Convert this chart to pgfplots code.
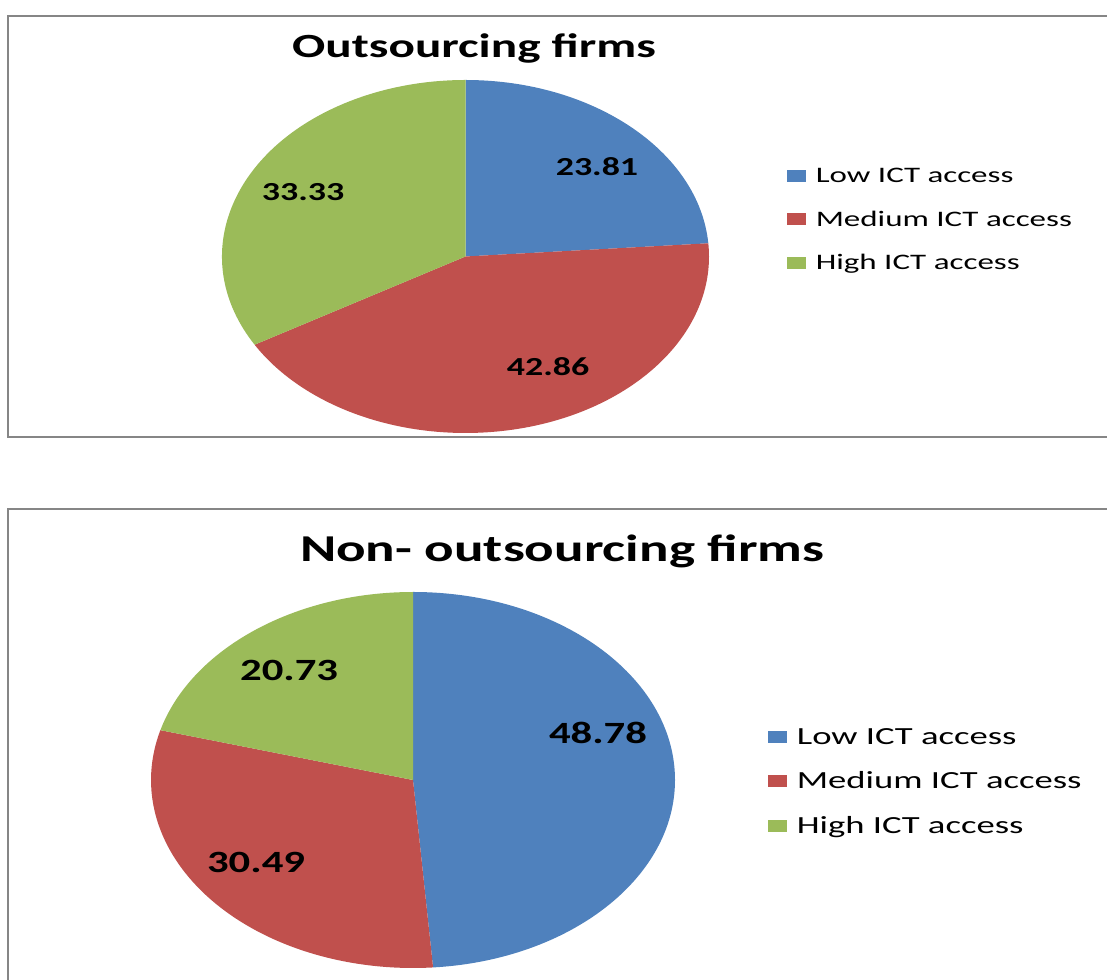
\documentclass[border=0pt]{standalone}
\usepackage{pgfplots}
\pgfplotsset{compat=1.18}
\usepackage{pgfplotstable}
\usepackage{fontspec}
\setmainfont{Carlito}
\newfontfamily\titlefont{Carlito}[FakeStretch=1.45]
\newfontfamily\numfont{Carlito}[FakeStretch=1.38]
\newfontfamily\legfont{Carlito}[FakeStretch=1.49]

\definecolor{lowc}{HTML}{4F81BD}
\definecolor{medc}{HTML}{C0504D}
\definecolor{highc}{HTML}{9BBB59}
\definecolor{framec}{RGB}{134,134,134}

% share in percent, label position (in units of the radii), slice colour
\pgfplotstableread{
share lx     ly     col
23.81 0.540  0.507  lowc
42.86 0.339 -0.626  medc
33.33 -0.667 0.365  highc
}\outsourcing
\pgfplotstableread{
share lx     ly     col
48.78 0.706  0.250  lowc
30.49 -0.599 -0.436 medc
20.73 -0.473 0.580  highc
}\nonoutsourcing

\newcommand\topnum{\numfont\bfseries\fontsize{14.8}{16}\selectfont}
\newcommand\botnum{\numfont\bfseries\fontsize{17.6}{19}\selectfont}

% slices clockwise from 12 o'clock; #2,#3 radii in cm, #4 label font
\newcommand\pieslices[4]{%
  \gdef\cumang{90}%
  \foreach \i in {0,1,2}{%
    \pgfplotstablegetelem{\i}{share}\of#1\let\val\pgfplotsretval
    \pgfplotstablegetelem{\i}{lx}\of#1\let\lx\pgfplotsretval
    \pgfplotstablegetelem{\i}{ly}\of#1\let\ly\pgfplotsretval
    \pgfplotstablegetelem{\i}{col}\of#1\let\col\pgfplotsretval
    \pgfmathsetmacro\aa{\cumang}%
    \pgfmathsetmacro\bb{\cumang-3.6*\val}%
    \pgfmathsetmacro\sx{cos(\aa)}%
    \pgfmathsetmacro\sy{sin(\aa)}%
    \edef\temp{%
      \noexpand\fill[\col] (axis cs:0,0) -- (axis cs:\sx,\sy)
        arc[start angle=\aa, end angle=\bb, x radius=#2cm, y radius=#3cm] -- cycle;
      \noexpand\node[font=\noexpand#4] at (axis cs:\lx,\ly) {\val};
    }\temp
    \xdef\cumang{\bb}%
  }%
}

\pgfplotsset{
  pie axis/.style={
    hide axis, scale only axis, clip=false,
    xmin=-1, xmax=1, ymin=-1, ymax=1,
    anchor=center,
    legend cell align=left,
    legend style={draw=none, fill=none, anchor=west, inner sep=0pt,
                  nodes={inner sep=0pt, text depth=0pt}},
    legend image code/.code={%
      \fill[##1] (0cm,-0.12cm) rectangle (0.38cm,0.12cm);
      \path (0.57cm,0cm);},
  },
}

\begin{document}
\begin{tikzpicture}
\useasboundingbox (0,0) rectangle (22.14cm,19.6cm);
\clip (0,0) rectangle (22.14cm,19.6cm);
\begin{scope}[x=0.02cm, y=0.02cm]
  \draw[framec, line width=1.1pt] (8,543) rectangle (1140,964);
  \draw[framec, line width=1.1pt] (8,-30) rectangle (1140,471);
  \node[anchor=base, font=\titlefont\bfseries\fontsize{19.3}{21}\selectfont]
    at (474,922.5) {Outsourcing firms};
  \node[anchor=base, font=\titlefont\bfseries\fontsize{21.6}{23}\selectfont]
    at (562,418) {Non- outsourcing firms};
\end{scope}

\begin{axis}[pie axis, at={(9.31cm,14.47cm)}, width=9.74cm, height=7.06cm,
    legend style={at={(1.160,0.606)}, font=\legfont\fontsize{12.6}{14}\selectfont,
                  row sep=0.59cm, nodes={text height=0.28cm}}]
  \addlegendimage{fill=lowc, draw=none}
  \addlegendimage{fill=medc, draw=none}
  \addlegendimage{fill=highc, draw=none}
  \pieslices{\outsourcing}{4.87}{3.53}{\topnum}
  \legend{Low ICT access, Medium ICT access, High ICT access}
\end{axis}

\begin{axis}[pie axis, at={(8.26cm,4.0cm)}, width=10.48cm, height=7.52cm,
    legend style={at={(1.1775,0.497)}, font=\legfont\fontsize{14}{16}\selectfont,
                  row sep=0.58cm, nodes={text height=0.31cm}}]
  \addlegendimage{fill=lowc, draw=none}
  \addlegendimage{fill=medc, draw=none}
  \addlegendimage{fill=highc, draw=none}
  \pieslices{\nonoutsourcing}{5.24}{3.76}{\botnum}
  \legend{Low ICT access, Medium ICT access, High ICT access}
\end{axis}
\end{tikzpicture}
\end{document}
